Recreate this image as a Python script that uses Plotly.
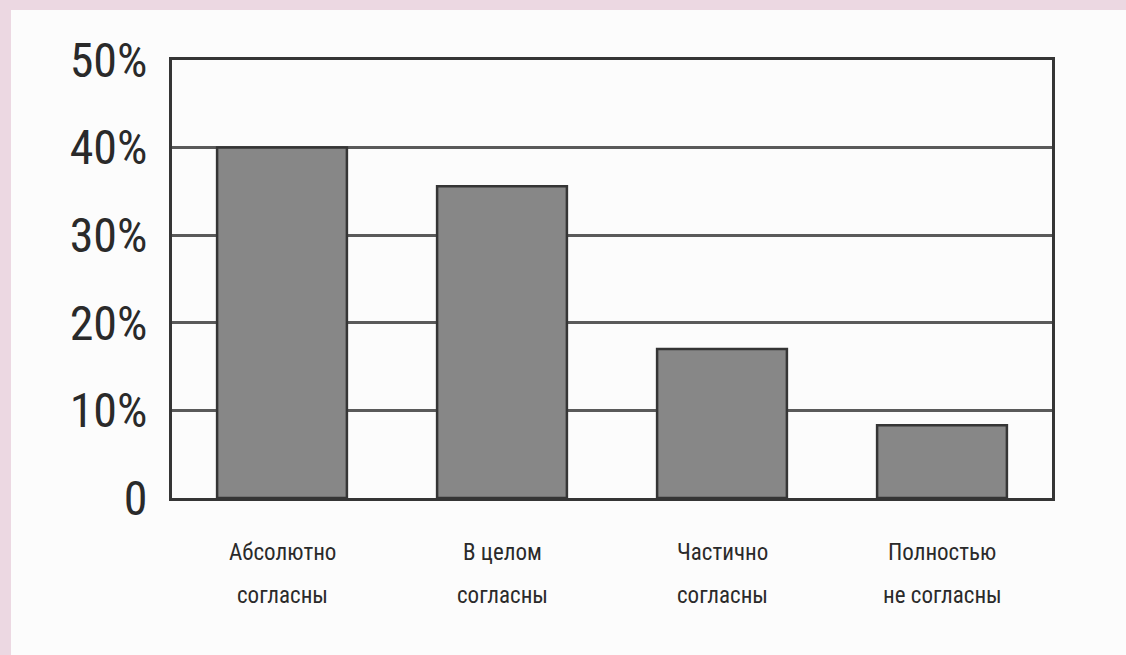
import plotly.graph_objects as go

categories = ["Абсолютно согласны", "В целом согласны", "Частично согласны", "Полностью не согласны"]
label_line1 = ["Абсолютно", "В целом", "Частично", "Полностью"]
label_line2 = ["согласны", "согласны", "согласны", "не согласны"]
values = [40, 35.6, 17, 8.3]
y_tickvals = [0, 10, 20, 30, 40, 50]
y_ticktext = ["0", "10%", "20%", "30%", "40%", "50%"]

W, H = 1126, 655
L, R, T, B = 172, 74, 60, 157
pw, ph = W - L - R, H - T - B

FONT = "Roboto Condensed, DejaVu Sans Condensed, sans-serif"

fig = go.Figure()
fig.add_trace(go.Bar(
    x=categories, y=values, width=0.59,
    marker=dict(color="#878787", line=dict(color="#353535", width=2.5)),
    hoverinfo="x+y",
))

# white page area over the pink border
fig.add_shape(type="rect", xref="paper", yref="paper",
              x0=(11 - L) / pw, x1=(W - L) / pw,
              y0=(T + ph - H) / ph, y1=(T + ph - 10) / ph,
              fillcolor="#fcfcfc", line=dict(width=0), layer="below")

for c, a, b in zip(categories, label_line1, label_line2):
    fig.add_annotation(x=c, xref="x", y=(T + ph - 552) / ph, yref="paper",
                       text=a, showarrow=False, yanchor="middle",
                       font=dict(family=FONT, size=23, color="#2a2a2a"))
    fig.add_annotation(x=c, xref="x", y=(T + ph - 595) / ph, yref="paper",
                       text=b, showarrow=False, yanchor="middle",
                       font=dict(family=FONT, size=23, color="#2a2a2a"))

fig.update_layout(
    width=W, height=H,
    margin=dict(l=L, r=R, t=T, b=B, pad=0),
    paper_bgcolor="#ecd8e2",
    plot_bgcolor="rgba(0,0,0,0)",
    showlegend=False,
    bargap=0.41,
    xaxis=dict(showticklabels=False, showgrid=False, zeroline=False,
               showline=True, mirror=True, linecolor="#353535", linewidth=3,
               ticks="", range=[-0.5, 3.5]),
    yaxis=dict(range=[0, 50], tickvals=y_tickvals, ticktext=y_ticktext,
               showgrid=True, gridcolor="#5a5a5a", gridwidth=3,
               zeroline=False, showline=True, mirror=True,
               linecolor="#353535", linewidth=3, ticks="", ticklabelstandoff=12,
               tickfont=dict(family=FONT, size=48, color="#2a2a2a")),
)

fig.write_html("out.html")
